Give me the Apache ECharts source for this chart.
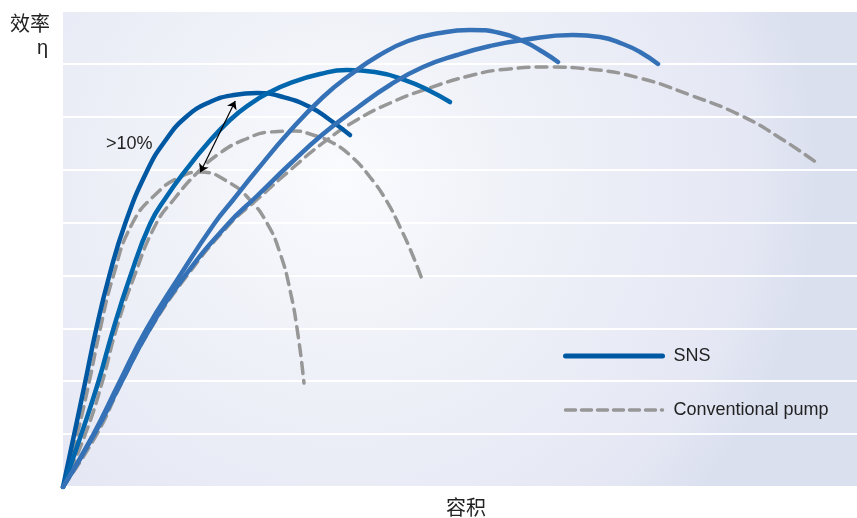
<!DOCTYPE html>
<html>
<head>
<meta charset="utf-8">
<script src="https://cdn.jsdelivr.net/npm/echarts@6/dist/echarts.min.js"></script>
<style>
html,body{margin:0;padding:0;background:#fff;}
#chart{width:857px;height:518px;}
</style>
</head>
<body>
<div id="chart"></div>
<script>
// Data (x: relative volume 0-100, y: relative efficiency 0-90)
const sns1 = [[0,0],[1.39,9.83],[2.77,19.66],[4.16,29.68],[5.79,39.70],[7.81,49.73],[10.58,59.75],[12.85,65.42],[15.49,69.96],[18.51,72.80],[21.54,74.12],[24.43,74.49],[27.71,73.74],[31.11,71.85],[33.63,69.39],[36.15,66.55]];
const sns2 = [[0,0],[2.27,9.83],[4.41,19.66],[6.30,29.68],[8.44,39.70],[10.96,49.73],[13.10,55.02],[15.49,59.94],[18.14,64.85],[21.03,69.39],[23.55,72.41],[26.07,74.68],[28.59,76.38],[32.37,78.09],[35.77,78.84],[39.29,78.46],[43.07,76.95],[46.22,74.87],[48.74,72.79]];
const sns3 = [[0,0],[3.78,9.83],[7.05,19.66],[10.45,29.68],[14.61,39.70],[19.02,49.73],[21.41,54.26],[24.43,59.93],[28.59,67.31],[32.75,73.74],[36.15,77.90],[39.67,81.49],[43.45,84.33],[47.48,85.84],[51.26,86.41],[55.04,85.84],[58.19,84.14],[60.45,82.24],[62.34,80.35]];
const sns4 = [[0,0],[3.90,9.83],[7.30,19.66],[10.83,29.68],[15.24,39.70],[20.78,49.73],[24.43,55.02],[28.59,61.07],[32.75,66.74],[37.03,71.66],[41.18,76.01],[45.34,79.41],[49.62,81.68],[53.78,83.38],[57.93,84.52],[64.23,85.46],[67.63,85.08],[70.53,83.76],[72.67,82.25],[74.94,79.98]];
const conv1 = [[0,0],[1.76,9.83],[3.27,19.66],[4.66,29.68],[6.30,39.70],[8.69,49.73],[11.84,55.59],[14.74,58.61],[17.25,59.56],[21.03,57.48],[23.55,54.26],[25.69,49.92],[27.33,44.24],[28.59,37.25],[29.60,28.74],[30.35,19.66]];
const conv2 = [[0,0],[2.77,9.83],[4.91,19.66],[6.68,29.68],[8.94,39.70],[11.71,49.73],[14.11,54.64],[16.75,59.18],[19.77,63.15],[23.05,65.80],[26.07,67.12],[29.22,67.31],[31.11,66.74],[34.01,65.04],[36.40,62.39],[38.66,58.61],[40.68,54.26],[42.44,49.16],[44.08,43.68],[45.34,38.76]];
const conv3 = [[0,0],[4.2,9.8],[7.4,19.7],[10.95,29.7],[15.5,39.7],[21.0,49.7],[24.4,54.3],[28.6,59.9],[32.7,65.0],[37.0,69.4],[41.2,72.6],[45.3,75.0],[51.6,77.9],[55.9,79.0],[61.3,79.4],[66.4,79.0],[72.7,77.3],[79.0,74.1],[85.3,70.3],[90.3,66.0],[95.3,60.9]];
const arrowFrom = [21.7, 73.0];
const arrowTo = [17.3, 59.5];
const gapLabel = '>10%';
const legendNames = ['SNS', 'Conventional pump'];
const xName = '容积';
const yName = ['效率', 'η'];

const snsColors = ['#0058a3', '#0066ad', '#3571b6', '#3571b6'];
const convColor = '#979797';
const cjk = '"Noto Sans CJK SC", sans-serif';
const latin = '"Liberation Sans", Arial, sans-serif';

function snsSeries(data, i) {
  return {
    name: legendNames[0], type: 'line', data: data, smooth: 0.5, symbol: 'none',
    lineStyle: { color: snsColors[i], width: 4.5, cap: 'round', join: 'round' },
    itemStyle: { color: snsColors[i] }, z: 3
  };
}
function convSeries(data) {
  return {
    name: legendNames[1], type: 'line', data: data, smooth: 0.5, symbol: 'none',
    lineStyle: { color: convColor, width: 3.5, type: [11, 7], cap: 'round' },
    itemStyle: { color: convColor }, z: 2
  };
}

const chart = echarts.init(document.getElementById('chart'));
chart.setOption({
  animation: false,
  grid: {
    left: 63, right: 0, top: 11, bottom: 31, show: true, borderWidth: 0,
    outerBoundsMode: 'none', containLabel: false,
    backgroundColor: new echarts.graphic.RadialGradient(0.35, 0.35, 1.0, [
      { offset: 0, color: '#fafbfe' },
      { offset: 0.3, color: '#f1f3f9' },
      { offset: 0.85, color: '#e5e8f4' },
      { offset: 1, color: '#dbe0ef' }
    ])
  },
  xAxis: {
    type: 'value', min: 0, max: 100,
    axisLine: { show: false }, axisTick: { show: false }, axisLabel: { show: false },
    splitLine: { show: false },
    name: xName, nameLocation: 'middle', nameGap: 10,
    nameTextStyle: { fontFamily: cjk, fontSize: 20, color: '#222', padding: [0, 0, 0, 12] }
  },
  yAxis: {
    type: 'value', min: 0, max: 90, interval: 10,
    axisLine: { show: false }, axisTick: { show: false }, axisLabel: { show: false },
    splitLine: { show: true, lineStyle: { color: '#ffffff', width: 2 } }
  },
  legend: {
    data: [
      { name: legendNames[0], lineStyle: { width: 5, color: snsColors[0], cap: 'round' } },
      { name: legendNames[1], lineStyle: { width: 3.5, color: convColor, type: [10, 6] } }
    ],
    orient: 'vertical', left: 558, top: 342,
    itemWidth: 97, itemHeight: 14, itemGap: 36,
    itemStyle: { opacity: 0 },
    textStyle: { fontFamily: latin, fontSize: 18, color: '#222', padding: [0, 0, 0, 6] }
  },
  graphic: [
    { type: 'text', right: 807, top: 13, style: { text: yName[0], font: '20px ' + cjk, fill: '#222', textAlign: 'right' } },
    { type: 'text', right: 809, top: 38, style: { text: yName[1], font: '20px ' + latin, fill: '#222', textAlign: 'right' } },
    { type: 'text', left: 106, top: 135, style: { text: gapLabel, font: '18px ' + latin, fill: '#222' } }
  ],
  series: [
    convSeries(conv1), convSeries(conv2), convSeries(conv3),
    snsSeries(sns1, 0), snsSeries(sns2, 1), snsSeries(sns3, 2), snsSeries(sns4, 3),
    {
      type: 'lines', coordinateSystem: 'cartesian2d', z: 5,
      symbol: ['arrow', 'arrow'], symbolSize: 8,
      lineStyle: { color: '#000', width: 1.2, opacity: 1 },
      data: [{ coords: [arrowFrom, arrowTo] }]
    }
  ]
});
</script>
</body>
</html>
